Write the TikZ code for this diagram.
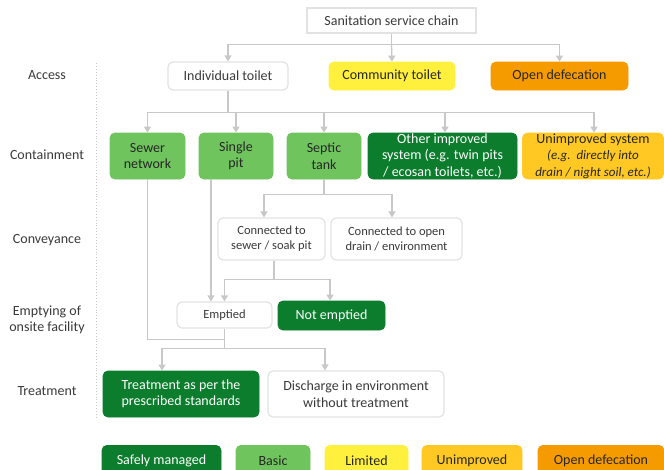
\documentclass[tikz,border=0pt]{standalone}
\usepackage{fontspec}
\setmainfont{Carlito}
\usetikzlibrary{arrows.meta,calc}
\definecolor{dgreen}{HTML}{0B7D2C}
\definecolor{lgreen}{HTML}{70C45E}
\definecolor{lyellow}{HTML}{FFF03E}
\definecolor{amber}{HTML}{FFC823}
\definecolor{orangeod}{HTML}{F59B00}
\definecolor{conn}{HTML}{C8C8C8}
\definecolor{txt}{HTML}{3A3A3A}
\definecolor{bord}{HTML}{E2E2E2}
\begin{document}
\begin{tikzpicture}[x=1pt,y=-1pt,
 every node/.style={font=\fontsize{14}{16.5}\selectfont, align=center, inner sep=0pt},
 sz/.style 2 args={minimum width=#1, minimum height=#2},
 wbox/.style={draw=bord, line width=1.2pt, fill=white, rounded corners=5pt, text=txt},
 tbox/.style={draw=bord, line width=1.2pt, fill=white, text=txt},
 cbox/.style={draw=#1, line width=0.8pt, fill=#1, rounded corners=5pt, text=black!85},
 gbox/.style={draw=dgreen, fill=dgreen, line width=0.8pt, rounded corners=5pt, text=white},
 small/.style={font=\fontsize{12.5}{15}\selectfont},
 lab/.style={text=txt},
 arr/.style={draw=conn, line width=1.3pt, -{Triangle[width=7pt,length=6pt]}},
 ln/.style={draw=conn, line width=1.3pt},
]
\useasboundingbox[fill=white] (0,0) rectangle (664,469);

% left labels
\node[lab] (lacc) at (47,75) {Access};
\node[lab] (lcon) at (47,155) {Containment};
\node[lab] (lcnv) at (47,240) {Conveyance};
\node[lab] (lemp) at (47,320) {Emptying of\\onsite facility};
\node[lab] (ltrt) at (47,391) {Treatment};
\draw[conn, line width=0.9pt, dotted] (96,63) -- (96,418);

% title
\node[tbox, sz={169}{25}] (title) at (391.5,20.5) {Sanitation service chain};

% access
\node[wbox, sz={120}{28}] (indiv) at (228,76) {Individual toilet};
\node[cbox=lyellow, sz={126}{28}] (comm) at (392,76) {Community toilet};
\node[cbox=orangeod, sz={137}{28}] (open) at (559.5,76) {Open defecation};

% containment
\node[cbox=lgreen, sz={75}{46}] (sewer) at (147.5,156) {Sewer\\network};
\node[cbox=lgreen, sz={74}{46}] (single) at (236,156) {Single\\pit};
\node[cbox=lgreen, sz={74}{46}] (septic) at (324,156) {Septic\\tank};
\node[gbox, sz={149}{46}] (other) at (442.5,156) {Other improved\\system (e.g. twin pits\\/ ecosan toilets, etc.)};
\node[cbox=amber, sz={141}{46}] (unimp) at (593,156) {Unimproved system\\{\fontsize{13}{15}\selectfont\itshape (e.g.\ \ directly into}\\{\fontsize{13}{15}\selectfont\itshape drain / night soil, etc.)}};

% conveyance
\node[wbox, small, sz={107}{42}] (conv1) at (271.5,239) {Connected to\\sewer / soak pit};
\node[wbox, small, sz={131}{42}] (conv2) at (396.5,239) {Connected to open\\drain / environment};

% emptying
\node[wbox, small, sz={95}{26}] (emptied) at (224.5,315) {Emptied};
\node[gbox, sz={107}{29}] (notemp) at (331.5,315.5) {Not emptied};

% treatment
\node[gbox, sz={156}{46}] (treat) at (181,394) {Treatment as per the\\prescribed standards};
\node[wbox, sz={176}{46}] (disch) at (356,394) {Discharge in environment\\without treatment};

% legend
\node[gbox, sz={119}{30}, anchor=north] (lg1) at (161.5,445) {Safely managed};
\node[cbox=lgreen, sz={74}{30}, anchor=north] (lg2) at (273,445) {Basic};
\node[cbox=lyellow, sz={83}{30}, anchor=north] (lg3) at (366.5,445) {Limited};
\node[cbox=amber, sz={100}{30}, anchor=north] (lg4) at (472,445) {Unimproved};
\node[cbox=orangeod, sz={126}{30}, anchor=north] (lg5) at (601,445) {Open defecation};

% connectors
\coordinate (j1) at ($(title.south)+(0,11)$);
\draw[ln] (title.south) -- (j1);
\draw[arr] (j1) -| (indiv.north);
\draw[arr] (j1) -- (comm.north);
\draw[arr] (j1) -| (open.north);

\coordinate (j2) at ($(indiv.south)+(0,22)$);
\draw[ln] (indiv.south) -- (j2);
\draw[arr] (j2) -| (sewer.north);
\draw[arr] (j2) -| (single.north);
\draw[arr] (j2) -| (septic.north);
\draw[arr] (j2) -| ([xshift=2.5pt]other.north);
\draw[arr] (j2) -| ([xshift=1pt]unimp.north);

\coordinate (j3) at ($(septic.south)+(0,15)$);
\draw[ln] (septic.south) -- (j3);
\draw[arr] (j3) -| ([xshift=-7.5pt]conv1.north);
\draw[arr] (j3) -| ([xshift=-4.5pt]conv2.north);

\coordinate (j4) at ($(conv1.south)+(2.5,19)$);
\draw[ln] ([xshift=2.5pt]conv1.south) -- (j4);
\draw[arr] (j4) -| (emptied.north);
\draw[arr] (j4) -| ([xshift=-1.5pt]notemp.north);

\coordinate (sp) at ([xshift=-25pt]single.south);
\draw[arr] (sp) -- (sp |- emptied.north);

\coordinate (j6) at ($(emptied.south)+(0,11)$);
\coordinate (j5) at ($(emptied.south)+(0,20)$);
\draw[ln] (sewer.south) |- (j6);
\draw[ln] (emptied.south) -- (j5);
\draw[arr] (j5) -| ([xshift=-19pt]treat.north);
\draw[arr] (j5) -| ([xshift=-31pt]disch.north);
\end{tikzpicture}
\end{document}
